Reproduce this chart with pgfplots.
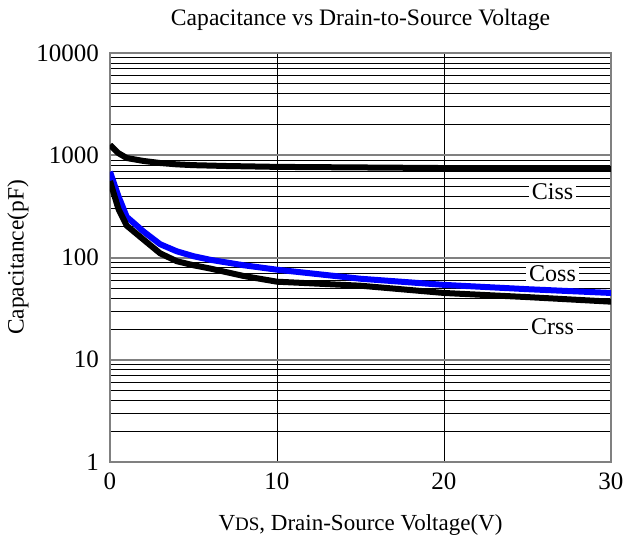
\documentclass[border=0pt]{standalone}
\usepackage{fontspec}
\setmainfont{Liberation Serif}
\usepackage{pgfplots}
\pgfplotsset{compat=1.18}
\begin{document}
\begin{tikzpicture}[x=1pt,y=1pt]
\path[use as bounding box] (-55,-40.5) rectangle (261.5,231);
\begin{axis}[
  at={(0,0)}, anchor=south west,
  scale only axis, width=250.5pt, height=204.5pt,
  ymode=log, xmin=0, xmax=30, ymin=1, ymax=10000,
  xtick={0,10,20,30}, ytick={1,10,100,1000,10000},
  yticklabels={1,10,100,1000,10000},
  xticklabels={0,10,20,30},
  /pgf/number format/assume math mode=true,
  major tick length=0pt, minor tick length=0pt,
  tick label style={font=\fontsize{12.5}{14}\selectfont},
  xticklabel style={yshift=-2pt},
  yticklabel style={xshift=-2pt},
  xmajorgrids, ymajorgrids, yminorgrids,
  major grid style={black, line width=0.45pt},
  minor grid style={black, line width=0.35pt},
  axis line style={gray, line width=0.8pt},
  title={Capacitance vs Drain-to-Source Voltage},
  title style={font=\fontsize{11.8}{13}\selectfont, at={(0.5,1)}, anchor=center, yshift=10.5pt},
  xlabel={V{\fontsize{9.5}{11}\selectfont DS}, Drain-Source Voltage(V)},
  xlabel style={font=\fontsize{11.5}{13}\selectfont, yshift=-5.5pt},
  ylabel={Capacitance(pF)},
  ylabel style={font=\fontsize{11.7}{13}\selectfont, yshift=-3pt},
  clip=true,
]
\addplot[gray, line width=1pt, forget plot] coordinates {(0,10) (30,10)};
\addplot[gray, line width=1pt, forget plot] coordinates {(0,100) (30,100)};
\addplot[gray, line width=1pt, forget plot] coordinates {(0,1000) (30,1000)};
\addplot[black, line width=3pt] coordinates {
(0,1260) (0.5,1050) (1,940) (2,880) (3,840) (4,815) (5,800) (7,785) (10,770) (15,760) (20,750) (25,742) (30,735)};
\addplot[blue, line width=3pt] coordinates {
(0,690) (0.5,400) (1,250) (2,180) (3,135) (4,115) (5,103) (6,95) (8,84) (10,76) (15,62) (20,54) (25,49) (30,45)};
\addplot[black, line width=3pt] coordinates {
(0,560) (0.5,300) (1,205) (2,150) (3,110) (4,92) (5,84) (6,78) (8,66) (10,58) (15,53) (20,45) (25,41) (30,37)};
\node[fill=white, inner sep=1.5pt, font=\fontsize{12}{14}\selectfont] at (axis cs:26.5,437) {Ciss};
\node[fill=white, inner sep=1.5pt, font=\fontsize{12}{14}\selectfont] at (axis cs:26.5,69) {Coss};
\node[fill=white, inner sep=1.5pt, font=\fontsize{12}{14}\selectfont] at (axis cs:26.5,21) {Crss};
\end{axis}
\end{tikzpicture}
\end{document}
